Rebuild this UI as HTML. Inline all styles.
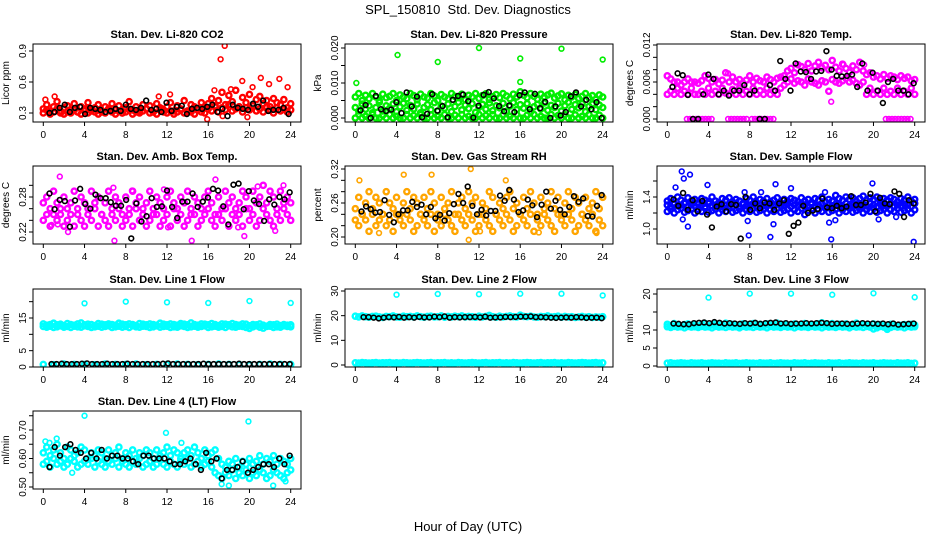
<!DOCTYPE html>
<html><head><meta charset="utf-8"><style>
html,body{margin:0;padding:0;background:#fff;}
svg{display:block;font-family:"Liberation Sans",sans-serif;}
</style></head><body>
<svg id="chart" width="936" height="540" viewBox="0 0 936 540" xmlns="http://www.w3.org/2000/svg">
<rect x="0" y="0" width="936" height="540" fill="#fff"/>
<text x="468" y="14" text-anchor="middle" font-size="13" xml:space="preserve">SPL_150810  Std. Dev. Diagnostics</text>
<text x="468" y="531" text-anchor="middle" font-size="13">Hour of Day (UTC)</text>
</svg>
<script>
const xTicks=[0,4,8,12,16,20,24];
// Panel 1 CO2
const co2A=[0.34,0.38,0.32,0.36,0.41,0.30,0.35,0.37,0.33,0.39,0.31,0.36,0.34,0.40,0.32,0.35,0.38,0.31,0.36,0.34,0.39,0.33,0.37,0.30,0.35,0.41,0.33,0.36,0.32,0.38,0.34,0.37,0.31,0.39,0.35,0.33,0.36,0.40,0.32,0.37,0.34,0.42,0.31,0.38,0.36,0.33,0.40,0.35,0.39,0.44,0.37,0.42,0.50,0.38,0.47,0.41,0.52,0.36,0.45,0.40,0.48,0.37,0.43,0.46,0.39,0.42,0.36,0.44,0.40,0.38,0.43,0.35,0.39];
const co2B=[0.30,0.33,0.29,0.31,0.34,0.32,0.29,0.31,0.30,0.33,0.31,0.29,0.32,0.30,0.34,0.31,0.29,0.32,0.30,0.33,0.31,0.29,0.32,0.30,0.31,0.33,0.29,0.31,0.30,0.32,0.34,0.30,0.31,0.29,0.33,0.31,0.30,0.32,0.29,0.31,0.33,0.30,0.32,0.31,0.29,0.33,0.31,0.30,0.34,0.32,0.36,0.31,0.35,0.33,0.38,0.32,0.34,0.36,0.31,0.35,0.33,0.37,0.32,0.34,0.31,0.36,0.33,0.30,0.35,0.32,0.34,0.31,0.33];
const co2Out=[[17.2,0.82],[17.6,0.95],[15.9,0.24],[19.3,0.61],[21.1,0.64],[22.9,0.63],[20.3,0.55],[21.9,0.58],[23.7,0.55],[1.1,0.46],[0.2,0.43],[12.3,0.48],[11.2,0.46],[16.6,0.52],[18.2,0.53],[19.8,0.26],[17.4,0.27]];
const co2Black=[0.30,0.31,0.35,0.38,0.31,0.35,0.36,0.29,0.35,0.34,0.33,0.31,0.32,0.34,0.32,0.38,0.34,0.33,0.35,0.42,0.33,0.34,0.31,0.40,0.32,0.36,0.37,0.29,0.34,0.35,0.34,0.36,0.38,0.31,0.34,0.27,0.38,0.35,0.34,0.33,0.39,0.36,0.42,0.32,0.33,0.33,0.35,0.29];
// Panel 2 pressure
const presA=[0.006,0.007,0.005,0.0065,0.0055,0.007,0.006,0.005,0.0068,0.0058,0.0062,0.007,0.005,0.0066,0.006,0.0055,0.007,0.0064,0.0052,0.0068,0.006,0.0057,0.007,0.0063,0.005,0.0067,0.006,0.0055,0.007,0.0062,0.0058,0.0068,0.0052,0.0065,0.006,0.007,0.0056,0.0064,0.0069,0.0053,0.0061,0.0067,0.0058,0.007,0.0063,0.0055,0.0068,0.006,0.0075,0.0065,0.0058,0.007,0.0062,0.0054,0.0068,0.006,0.0066,0.0071,0.0057,0.0063,0.0069,0.0052,0.0065,0.006,0.0067,0.0056,0.0062,0.007,0.0058,0.0064,0.0053,0.0066,0.006];
const presB=[0.003,0.002,0.004,0.0025,0.0035,0.0015,0.003,0.0045,0.002,0.0035,0.0028,0.004,0.0018,0.0032,0.0042,0.0022,0.0036,0.0026,0.004,0.0015,0.003,0.0038,0.0024,0.0044,0.002,0.0034,0.0028,0.004,0.0018,0.0033,0.0045,0.0023,0.0037,0.0027,0.0041,0.0016,0.0031,0.0039,0.0025,0.0043,0.0021,0.0035,0.0029,0.0042,0.0019,0.0034,0.0044,0.0024,0.0038,0.0028,0.0041,0.0017,0.0032,0.0039,0.0026,0.0043,0.0022,0.0036,0.003,0.0042,0.002,0.0035,0.0045,0.0025,0.0038,0.0029,0.0041,0.0018,0.0033,0.004,0.0024,0.0037,0.003];
const presC=[0,0.001,0,0.0005,0,0.001,0,0,0.0008,0,0.001,0,0.0005,0,0,0.001,0,0.0007,0,0.001,0,0,0.0009,0,0.0005,0,0.001,0,0,0.0008,0,0.001,0,0.0005,0,0,0.001,0,0.0007,0,0.001,0,0,0.0009,0,0.0005,0,0.001,0,0,0.0008,0,0.001,0,0.0005,0,0,0.001,0,0.0007,0,0.001,0,0,0.0009,0,0.0005,0,0.001,0,0,0.0008,0];
const presOut=[[0.1,0.010],[4.1,0.018],[8.0,0.016],[12.0,0.020],[16.0,0.017],[16.0,0.0103],[20.0,0.0198],[24.0,0.0167]];
const presBlack=[0.0022,0.0037,0,0.0063,0.0025,0.002,0.0024,0.0045,0.0014,0.0073,0.0033,0.0061,0.0002,0.0012,0.0068,0.0021,0.0034,0.0002,0.0052,0.0063,0.0067,0.0048,0.0001,0.0035,0.0066,0.0074,0.0056,0.0034,0.0019,0.0036,0.0017,0.0065,0.0073,0.0025,0.0069,0.0028,0.0046,0,0.0033,0.0007,0.0017,0.0062,0.0073,0.0033,0.0052,0.0025,0.0045,0];
// Panel 3 Li-820 temp
const tempA=[0.007,0.0065,0.006,0.006,0.0055,0.006,0.0065,0.006,0.006,0.0058,0.0062,0.007,0.0066,0.006,0.0064,0.0057,0.0063,0.0075,0.006,0.0068,0.006,0.0064,0.0058,0.0063,0.007,0.006,0.0066,0.0062,0.006,0.0068,0.0064,0.006,0.0066,0.0068,0.007,0.0078,0.0082,0.0075,0.0088,0.0085,0.008,0.009,0.0078,0.0086,0.0092,0.0083,0.0087,0.008,0.0095,0.0084,0.0078,0.0089,0.0082,0.0076,0.0086,0.008,0.0092,0.0078,0.0072,0.0075,0.0068,0.007,0.0065,0.0072,0.0066,0.007,0.0068,0.0064,0.007,0.0066,0.0068,0.0062,0.0064];
const tempB=[0.004,0.0045,0.004,0.005,0.004,0.0045,0.004,0.005,0.004,0.004,0.0045,0.004,0.005,0.004,0.0045,0.004,0.005,0.0042,0.004,0.0048,0.004,0.005,0.004,0.0045,0.004,0.005,0.004,0.0046,0.004,0.005,0.004,0.0045,0.004,0.005,0.0055,0.006,0.0065,0.0058,0.0062,0.006,0.0055,0.0065,0.006,0.0058,0.0055,0.0062,0.006,0.0045,0.0064,0.006,0.0058,0.0062,0.0066,0.006,0.0063,0.0058,0.0055,0.006,0.004,0.005,0.004,0.0045,0.004,0.005,0.004,0.0045,0.004,0.005,0.004,0.0045,0.004,0.005,0.004];
const tempOut=[[1.9,0],[2.2,0],[2.5,0],[2.8,0],[3.1,0],[3.4,0],[3.7,0],[4.0,0],[4.3,0],[5.9,0],[6.2,0],[6.5,0],[6.8,0],[7.1,0],[7.4,0],[7.7,0],[8.2,0],[8.5,0],[8.8,0],[9.1,0],[9.4,0],[9.7,0],[10.0,0],[10.3,0],[21.2,0],[21.5,0],[21.8,0],[22.1,0],[22.4,0],[22.7,0],[23.0,0],[23.3,0],[23.6,0],[15.9,0.0028],[5.9,0.0074],[19.1,0.0088],[17.1,0.0088]];
const tempBlack=[0.0052,0.0074,0.0071,0.0039,0,0,0.0040,0.0072,0.0065,0.004,0.0046,0.0038,0.0046,0.0046,0.0055,0.0040,0.0046,0,0,0.0055,0.0046,0.0094,0.0065,0.0046,0.0090,0.0077,0.0076,0.0065,0.0077,0.0078,0.0110,0.0080,0.0070,0.0069,0.0070,0.0072,0.0052,0.0090,0.0046,0.0075,0.0046,0.0026,0.0060,0.0065,0.0046,0.0046,0.0040,0.0058];
// Panel 4 amb box temp
const ambA=[0.27,0.28,0.26,0.29,0.27,0.25,0.28,0.26,0.27,0.29,0.25,0.28,0.27,0.26,0.29,0.27,0.28,0.25,0.27,0.29,0.26,0.28,0.27,0.25,0.28,0.26,0.29,0.27,0.28,0.26,0.27,0.29,0.25,0.28,0.27,0.26,0.28,0.29,0.27,0.26,0.28,0.27,0.29,0.25,0.28,0.27,0.26,0.28,0.29,0.27,0.25,0.28,0.26,0.29,0.27,0.28,0.26,0.27,0.29,0.28,0.26,0.29,0.27,0.28,0.30,0.27,0.29,0.28,0.26,0.29,0.27,0.28,0.27];
const ambB=[0.24,0.25,0.23,0.25,0.24,0.26,0.23,0.24,0.25,0.23,0.26,0.24,0.23,0.25,0.24,0.26,0.23,0.25,0.24,0.23,0.25,0.24,0.26,0.23,0.24,0.25,0.23,0.26,0.24,0.25,0.23,0.24,0.26,0.25,0.23,0.24,0.25,0.23,0.26,0.24,0.25,0.23,0.24,0.26,0.25,0.23,0.24,0.25,0.26,0.24,0.23,0.25,0.24,0.26,0.23,0.25,0.24,0.25,0.23,0.26,0.24,0.25,0.23,0.24,0.26,0.25,0.24,0.23,0.25,0.24,0.26,0.25,0.24];
const ambOut=[[1.6,0.315],[6.9,0.205],[14.4,0.205],[19.5,0.213],[16.7,0.31],[23.3,0.30],[6.8,0.296],[11.7,0.293],[8.6,0.291],[0.8,0.232],[1.4,0.233],[2.4,0.22],[12.1,0.228],[18.9,0.228],[22.5,0.222],[20.8,0.298]];
const ambBlack=[0.286,0.259,0.275,0.273,0.229,0.274,0.294,0.268,0.260,0.284,0.278,0.278,0.271,0.265,0.265,0.275,0.209,0.269,0.238,0.247,0.278,0.263,0.264,0.291,0.263,0.244,0.272,0.272,0.286,0.263,0.272,0.279,0.294,0.291,0.264,0.233,0.301,0.303,0.259,0.290,0.274,0.268,0.239,0.276,0.267,0.280,0.276,0.288];
// Panel 5 RH
const rhA=[0.25,0.27,0.24,0.26,0.28,0.25,0.27,0.26,0.24,0.28,0.26,0.25,0.27,0.24,0.26,0.28,0.25,0.27,0.26,0.24,0.27,0.25,0.28,0.26,0.24,0.27,0.25,0.26,0.28,0.24,0.26,0.27,0.25,0.28,0.26,0.27,0.24,0.26,0.25,0.28,0.27,0.24,0.26,0.25,0.27,0.28,0.25,0.26,0.24,0.27,0.25,0.28,0.26,0.24,0.27,0.25,0.26,0.28,0.25,0.27,0.24,0.26,0.28,0.25,0.27,0.26,0.24,0.27,0.25,0.26,0.28,0.25,0.27];
const rhB=[0.23,0.22,0.24,0.23,0.21,0.24,0.22,0.23,0.24,0.22,0.23,0.21,0.24,0.23,0.22,0.24,0.23,0.21,0.22,0.24,0.23,0.22,0.24,0.21,0.23,0.22,0.24,0.23,0.22,0.21,0.24,0.23,0.22,0.24,0.23,0.21,0.22,0.24,0.23,0.22,0.21,0.24,0.23,0.22,0.24,0.23,0.21,0.22,0.24,0.23,0.22,0.24,0.21,0.23,0.22,0.24,0.23,0.22,0.21,0.24,0.23,0.22,0.24,0.23,0.21,0.22,0.24,0.23,0.22,0.24,0.21,0.23,0.22];
const rhOut=[[0.4,0.30],[4.7,0.31],[7.4,0.31],[11.2,0.32],[11.0,0.195],[12.1,0.21],[17.8,0.208],[23.4,0.207],[2.3,0.207],[14.6,0.30]];
const rhBlack=[0.245,0.254,0.249,0.243,0.244,0.265,0.239,0.226,0.240,0.247,0.247,0.262,0.253,0.257,0.240,0.253,0.233,0.239,0.229,0.242,0.258,0.276,0.260,0.289,0.255,0.240,0.248,0.238,0.246,0.246,0.273,0.264,0.283,0.266,0.244,0.247,0.266,0.256,0.235,0.257,0.280,0.250,0.264,0.248,0.240,0.253,0.272,0.262,0.268,0.237,0.236,0.255,0.274];
// Panel 6 sample flow
const sfA=[1.35,1.38,1.32,1.40,1.36,1.33,1.39,1.35,1.37,1.32,1.38,1.36,1.34,1.40,1.35,1.33,1.38,1.36,1.39,1.34,1.37,1.35,1.32,1.38,1.36,1.40,1.33,1.37,1.35,1.38,1.34,1.36,1.39,1.33,1.37,1.35,1.38,1.36,1.34,1.39,1.35,1.37,1.33,1.38,1.36,1.40,1.34,1.37,1.35,1.42,1.38,1.36,1.40,1.37,1.39,1.35,1.38,1.41,1.36,1.39,1.37,1.40,1.35,1.38,1.36,1.39,1.37,1.34,1.38,1.36,1.40,1.35,1.37];
const sfB=[1.22,1.25,1.20,1.24,1.26,1.21,1.23,1.25,1.20,1.24,1.22,1.26,1.21,1.23,1.25,1.20,1.24,1.22,1.26,1.21,1.23,1.25,1.20,1.24,1.22,1.26,1.21,1.23,1.25,1.20,1.24,1.22,1.26,1.21,1.23,1.25,1.20,1.24,1.22,1.26,1.18,1.23,1.25,1.20,1.24,1.22,1.26,1.21,1.23,1.25,1.20,1.24,1.22,1.26,1.21,1.23,1.25,1.20,1.24,1.22,1.26,1.21,1.23,1.25,1.20,1.24,1.22,1.26,1.21,1.23,1.25,1.20,1.24];
const sfC=[1.30,1.28,1.31,1.29,1.30,1.32,1.28,1.30,1.29,1.31,1.30,1.28,1.32,1.29,1.30,1.31,1.28,1.30,1.29,1.32,1.30,1.28,1.31,1.29,1.30,1.32,1.28,1.30,1.29,1.31,1.30,1.28,1.32,1.29,1.30,1.31,1.28,1.30,1.29,1.32,1.30,1.28,1.31,1.29,1.30,1.32,1.28,1.30,1.29,1.31,1.30,1.28,1.32,1.29,1.30,1.31,1.28,1.30,1.29,1.32,1.30,1.28,1.31,1.29,1.30,1.32,1.28,1.30,1.29,1.31,1.30,1.28,1.32];
const sfOut=[[1.4,1.72],[1.6,1.63],[2.2,1.68],[0.8,1.52],[3.9,1.55],[1.5,1.12],[2.0,1.03],[7.9,0.92],[10.0,0.90],[10.3,1.06],[15.9,0.87],[23.9,0.84],[19.9,1.57],[12.0,1.51],[10.5,1.56],[15.3,1.46],[7.5,1.46],[9.1,1.46],[20.5,1.12],[22.2,1.15],[15.7,1.08],[16.3,1.11],[7.8,1.10]];
const sfBlack=[1.37,1.29,1.45,1.24,1.36,1.22,1.35,1.18,1.02,1.28,1.31,1.22,1.31,1.30,0.88,1.40,1.24,1.32,1.26,1.33,1.32,1.24,1.32,1.36,0.94,1.04,1.08,1.29,1.20,1.23,1.25,1.38,1.27,1.26,1.29,1.26,1.28,1.41,1.30,1.30,1.33,1.44,1.22,1.39,1.32,1.31,1.47,1.44,1.15,1.36,1.32];
// Panel 7 line 1 flow
const l1A=[13.2,12.8,13.0,13.4,12.9,13.1,12.7,13.3,13.0,12.8,13.2,13.5,12.9,13.1,13.0,12.7,13.3,13.1,12.9,13.2,13.0,12.8,13.4,13.1,12.9,13.2,13.0,12.7,13.3,13.1,12.9,13.2,13.0,12.8,13.4,13.1,12.9,13.2,13.0,12.8,13.3,13.1,12.9,13.5,13.0,12.8,13.2,13.1,12.9,13.3,13.0,12.7,13.2,13.1,12.9,13.3,13.0,12.8,13.2,13.1,12.6,13.0,12.9,13.2,12.8,12.5,13.0,12.9,13.1,12.7,13.0,12.8,12.9];
const l1B=[12.4,12.2,12.5,12.1,12.3,12.6,12.2,12.4,12.1,12.5,12.3,12.2,12.6,12.4,12.1,12.3,12.5,12.2,12.4,12.6,12.1,12.3,12.5,12.2,12.4,12.1,12.6,12.3,12.2,12.5,12.4,12.1,12.3,12.6,12.2,12.4,12.5,12.1,12.3,12.2,12.6,12.4,12.1,12.3,12.5,12.2,12.4,12.6,12.1,12.3,12.5,12.2,12.4,12.1,12.6,12.3,12.2,12.5,12.4,12.1,11.8,12.3,12.6,12.2,11.9,12.4,12.5,12.1,12.3,12.2,12.6,12.4,12.3];
const l1Low=[0.8,0.7,0.9,0.8,0.8,0.7,0.9,0.8,0.8,0.9,0.7,0.8,0.8,0.9,0.8,0.7,0.8,0.9,0.8,0.8,0.7,0.8,0.9,0.8,0.8];
const l1Out=[[4,19.5],[8,20.0],[12,19.8],[16,19.6],[20,20.2],[24,19.6]];
const l1Black=[0.9,0.9,1.0,0.9,0.9,0.9,1.0,1.1,0.9,0.9,0.9,1.0,0.9,0.9,0.9,1.0,0.9,0.9,0.9,0.9,0.9,0.9,1.0,1.1,0.9,0.9,0.9,0.9,0.9,0.9,1.0,0.9,0.9,0.9,0.9,0.9,0.9,1.0,0.9,0.9,0.9,0.9,0.9,0.9,0.9,0.9,0.9,0.9];
// Panel 8 line 2 flow
const l2A=[19.8,19.5,19.9,19.6,19.4,19.7,19.8,19.5,19.3,19.7,19.6,19.9,19.5,19.4,19.8,19.6,19.7,19.5,19.9,19.6,19.4,19.7,19.8,19.5,19.6,19.9,19.4,19.7,19.5,19.8,19.6,19.9,19.5,19.7,19.6,19.4,19.8,19.5,19.7,20.1,19.6,19.4,19.8,19.5,19.7,19.9,19.6,19.5,20.2,19.7,19.6,19.8,19.5,19.4,19.7,19.6,19.9,19.5,19.6,19.8,19.4,19.7,19.5,19.6,19.3,19.5,19.7,19.4,19.6,19.3,19.5,19.4,19.6];
const l2Low=[0.9,0.8,1.0,0.9,0.8,0.9,1.0,0.8,0.9,0.9,1.0,0.8,0.9,0.8,1.0,0.9,0.8,0.9,1.0,0.9,0.8,0.9,1.0,0.8,0.9,0.9,1.0,0.8,0.9,0.8,1.0,0.9,0.8,0.9,1.0,0.9,0.8,0.9,1.0,0.8,0.9,0.9,1.0,0.8,0.9,0.8,1.0,0.9,0.8,0.9,1.0,0.9,0.8,0.9,1.0,0.8,0.9,0.9,1.0,0.8,0.9,0.8,1.0,0.9,0.8,0.9,1.0,0.9,0.8,0.9,1.0,0.8,0.9];
const l2Out=[[4,28.5],[8,28.8],[12,28.7],[16,28.9],[20,28.9],[24,28.2]];
const l2Black=[19.4,19.4,19.2,18.9,19.2,19.4,19.3,19.5,19.2,19.4,19.2,19.5,19.3,19.3,19.6,19.4,19.7,19.2,19.4,19.3,19.4,19.4,19.5,19.3,19.6,19.2,19.3,19.3,19.5,19.4,19.5,19.6,19.6,19.7,19.4,19.4,19.3,19.2,19.1,19.2,19.3,19.2,19.4,19.3,19.1,19.2,19.2,19.0];
// Panel 9 line 3 flow
const l3A=[11.6,11.2,11.8,11.4,11.0,11.5,11.7,11.3,11.6,11.1,11.5,11.8,11.2,11.4,11.7,11.3,11.5,11.9,11.2,11.6,11.4,11.0,11.7,11.3,11.5,11.8,11.2,11.6,11.4,11.7,11.3,11.5,11.9,11.2,11.6,11.4,11.1,11.7,11.3,11.5,11.8,11.2,11.6,11.4,11.7,12.0,11.3,11.5,11.8,11.2,11.6,11.4,11.7,11.3,11.5,11.9,11.2,11.6,11.4,11.1,11.7,11.3,11.5,11.2,10.8,11.6,11.4,11.0,11.3,11.5,11.2,11.6,11.4];
const l3B=[10.9,10.7,11.0,10.8,10.9,10.6,11.0,10.8,10.9,10.7,11.0,10.8,10.9,10.6,11.0,10.8,10.9,10.7,11.0,10.8,10.9,10.6,11.0,10.8,10.9,10.7,11.0,10.8,10.9,10.6,11.0,10.8,10.9,10.7,11.0,10.8,10.9,10.6,11.0,10.8,10.9,10.7,11.0,10.8,10.9,10.6,11.0,10.8,10.9,10.7,11.0,10.8,10.9,10.6,11.0,10.8,10.9,10.7,11.0,10.8,10.3,10.6,11.0,10.8,10.2,10.7,11.0,10.8,10.9,10.6,11.0,10.8,10.9];
const l3Low=[0.8,0.9,0.7,0.8,0.9,0.8,0.7,0.9,0.8,0.8,0.9,0.7,0.8,0.9,0.8,0.8,0.7,0.9,0.8,0.8,0.9,0.7,0.8,0.9,0.8,0.8,0.7,0.9,0.8,0.8,0.9,0.7,0.8,0.9,0.8,0.8,0.7,0.9,0.8,0.8,0.9,0.7,0.8,0.9,0.8,0.8,0.7,0.9,0.8,0.8,0.9,0.7,0.8,0.9,0.8,0.8,0.7,0.9,0.8,0.8,0.9,0.7,0.8,0.9,0.8,0.8,0.7,0.9,0.8,0.8,0.9,0.7,0.8];
const l3Out=[[4,19.0],[8,20.1],[12,20.1],[16,19.8],[20,20.2],[24,19.1]];
const l3Black=[11.8,11.7,11.6,11.6,11.9,12.0,12.1,11.9,12.2,12.0,11.8,11.9,11.8,11.7,11.9,11.8,12.0,11.7,11.9,12.0,12.1,11.8,11.9,11.7,11.8,11.8,11.9,11.8,11.9,12.0,11.9,11.7,11.8,11.8,11.7,11.7,11.8,11.9,11.8,11.8,11.7,11.8,11.6,11.8,11.5,11.6,11.7,11.8];
// Panel 10 line 4 flow
const l4A=[0.62,0.64,0.61,0.63,0.65,0.62,0.60,0.64,0.63,0.61,0.62,0.64,0.63,0.60,0.62,0.61,0.63,0.62,0.60,0.63,0.61,0.62,0.64,0.60,0.62,0.61,0.63,0.60,0.62,0.61,0.63,0.62,0.60,0.63,0.61,0.62,0.64,0.61,0.63,0.62,0.60,0.62,0.63,0.61,0.64,0.62,0.60,0.63,0.61,0.62,0.63,0.60,0.58,0.57,0.59,0.58,0.60,0.57,0.59,0.58,0.60,0.58,0.59,0.61,0.58,0.60,0.59,0.61,0.58,0.60,0.59,0.58,0.60];
const l4B=[0.58,0.59,0.57,0.60,0.58,0.59,0.57,0.58,0.60,0.59,0.57,0.58,0.59,0.58,0.60,0.57,0.59,0.58,0.57,0.59,0.58,0.60,0.57,0.59,0.58,0.57,0.59,0.58,0.60,0.57,0.58,0.59,0.57,0.58,0.60,0.58,0.57,0.59,0.58,0.57,0.59,0.58,0.60,0.57,0.58,0.59,0.57,0.58,0.59,0.57,0.55,0.54,0.53,0.55,0.54,0.56,0.53,0.55,0.54,0.56,0.53,0.55,0.54,0.56,0.55,0.53,0.54,0.56,0.55,0.54,0.53,0.55,0.56];
const l4Out=[[4,0.75],[19.9,0.73],[11.9,0.69],[1.3,0.67],[22.3,0.505],[18.0,0.505],[17.3,0.51],[0.2,0.66],[23.5,0.52],[2.8,0.55],[0.6,0.655],[13.4,0.655]];
const l4Black=[0.57,0.64,0.61,0.64,0.65,0.63,0.62,0.60,0.62,0.60,0.63,0.60,0.61,0.61,0.60,0.60,0.59,0.58,0.61,0.61,0.60,0.60,0.60,0.59,0.58,0.58,0.59,0.60,0.58,0.56,0.62,0.59,0.60,0.53,0.56,0.56,0.57,0.59,0.55,0.56,0.57,0.58,0.58,0.57,0.60,0.58,0.61];

const NS='http://www.w3.org/2000/svg';
const svg=document.getElementById('chart');
const colLeft=[33,345,657], rowTop=[44,166,289,411], PW=268, PH=78;
function mk(tag,attrs,parent){const e=document.createElementNS(NS,tag);for(const k in attrs)e.setAttribute(k,attrs[k]);(parent||svg).appendChild(e);return e;}

const panels=[
 {key:'co2',title:'Stan. Dev. Li-820 CO2',ylab:'Licor ppm',col:'#ff0000',cal:[0.3,113,0.9,51],yt:[0.3,0.6,0.9],yl:['0.3','0.6','0.9'],bands:[co2A,co2B],out:co2Out,black:co2Black,bx:[0.6,23.8]},
 {key:'pressure',title:'Stan. Dev. Li-820 Pressure',ylab:'kPa',col:'#00ee00',cal:[0,118,0.02,48],yt:[0,0.005,0.01,0.015,0.02],yl:['0.000','','0.010','','0.020'],bands:[presA,presB,presC],out:presOut,black:presBlack,bx:[0.5,23.9]},
 {key:'licor-temp',title:'Stan. Dev. Li-820 Temp.',ylab:'degrees C',col:'#ff00ff',cal:[0,119,0.012,45],yt:[0,0.002,0.004,0.006,0.008,0.01,0.012],yl:['0.000','','','0.006','','','0.012'],bands:[tempA,tempB],out:tempOut,black:tempBlack,bx:[0.5,23.9]},
 {key:'amb-temp',title:'Stan. Dev. Amb. Box Temp.',ylab:'degrees C',col:'#ff00ff',cal:[0.22,232,0.28,197],yt:[0.22,0.24,0.26,0.28,0.30],yl:['0.22','','','0.28',''],bands:[ambA,ambB],out:ambOut,black:ambBlack,bx:[0.6,23.9]},
 {key:'rh',title:'Stan. Dev. Gas Stream RH',ylab:'percent',col:'#ffa500',cal:[0.2,237,0.32,169],yt:[0.20,0.22,0.24,0.26,0.28,0.30,0.32],yl:['0.20','','','0.26','','','0.32'],bands:[rhA,rhB],out:rhOut,black:rhBlack,bx:[0.6,23.9]},
 {key:'sample-flow',title:'Stan. Dev. Sample Flow',ylab:'ml/min',col:'#0000ff',cal:[1.0,229,1.4,197],yt:[1.0,1.2,1.4,1.6],yl:['1.0','','1.4',''],bands:[sfA,sfB,sfC],out:sfOut,black:sfBlack,bx:[0.6,23.9]},
 {key:'line1',title:'Stan. Dev. Line 1 Flow',ylab:'ml/min',col:'#00ffff',cal:[0,367,15,318],yt:[0,5,10,15,20],yl:['0','5','','15',''],bands:[l1A,l1B,l1Low],out:l1Out,black:l1Black,bx:[0.8,23.9]},
 {key:'line2',title:'Stan. Dev. Line 2 Flow',ylab:'ml/min',col:'#00ffff',cal:[0,365,30,291],yt:[0,10,20,30],yl:['0','10','20','30'],bands:[l2A,l2Low],out:l2Out,black:l2Black,bx:[0.8,23.9]},
 {key:'line3',title:'Stan. Dev. Line 3 Flow',ylab:'ml/min',col:'#00ffff',cal:[0,366,20,294],yt:[0,5,10,15,20],yl:['0','5','10','','20'],bands:[l3A,l3B,l3Low],out:l3Out,black:l3Black,bx:[0.6,23.9]},
 {key:'line4',title:'Stan. Dev. Line 4 (LT) Flow',ylab:'ml/min',col:'#00ffff',cal:[0.5,487,0.7,430],yt:[0.50,0.55,0.60,0.65,0.70,0.75],yl:['0.50','','0.60','','0.70',''],bands:[l4A,l4B],out:l4Out,black:l4Black,bx:[0.6,23.9]}
];

panels.forEach((p,idx)=>{
  const L=colLeft[idx%3], T=rowTop[Math.floor(idx/3)];
  const g=mk('g',{});
  
  
  const xs=h=>L+10.3+h*(PW-20.6)/24;
  const ys=v=>p.cal[1]+(v-p.cal[0])*(p.cal[3]-p.cal[1])/(p.cal[2]-p.cal[0]);
  const t=mk('text',{x:L+PW/2,y:T-6,'text-anchor':'middle','font-size':'11','font-weight':'bold'},g);
  t.textContent=p.title;
  
  
  const yl=mk('text',{x:0,y:0,'text-anchor':'middle','font-size':'10',transform:`translate(${L-24},${T+PH/2}) rotate(-90)`},g);
  yl.textContent=p.ylab;
  
  
  const cid='clip'+idx;
  const cp=mk('clipPath',{id:cid},g); mk('rect',{x:L,y:T,width:PW,height:PH},cp);
  const marks=mk('g',{'clip-path':`url(#${cid})`,fill:'none','stroke-width':'1.6'},g);
  
  
  p.bands.forEach(arr=>{
    const n=arr.length;
    arr.forEach((v,i)=>{
      const c=mk('circle',{cx:xs(i*24/(n-1)),cy:ys(v),r:2.6,stroke:p.col,'stroke-width':'2.4'},marks);
      
      
    });
  });
  p.out.forEach(d=>{
    const c=mk('circle',{cx:xs(d[0]),cy:ys(d[1]),r:2.4,stroke:p.col},marks);
    
    
  });
  const nb=p.black.length;
  p.black.forEach((v,i)=>{
    const c=mk('circle',{cx:xs(p.bx[0]+i*(p.bx[1]-p.bx[0])/(nb-1)),cy:ys(v),r:2.4,stroke:'#000'},marks);
    
    
  });
  const b=mk('rect',{x:L,y:T,width:PW,height:PH,fill:'none',stroke:'#000','stroke-width':'1'},g);
  
  
  const xa=mk('g',{},g);
  
  
  mk('line',{x1:xs(0),x2:xs(24),y1:T+PH,y2:T+PH,stroke:'#000'},xa);
  xTicks.forEach(h=>{
    mk('line',{x1:xs(h),x2:xs(h),y1:T+PH,y2:T+PH+4,stroke:'#000'},xa);
    const tl=mk('text',{x:xs(h),y:T+PH+16,'text-anchor':'middle','font-size':'10'},xa);
    tl.textContent=String(h);
    
    
  });
  const ya=mk('g',{},g);
  
  
  p.yt.forEach((v,i)=>{
    const y=ys(v);
    mk('line',{x1:L-4,x2:L,y1:y,y2:y,stroke:'#000'},ya);
    if(p.yl[i]){
      const tl=mk('text',{x:0,y:0,'text-anchor':'middle','font-size':'10',transform:`translate(${L-7},${y}) rotate(-90)`},ya);
      tl.textContent=p.yl[i];
      
      
    }
  });
});
</script>
</body></html>
